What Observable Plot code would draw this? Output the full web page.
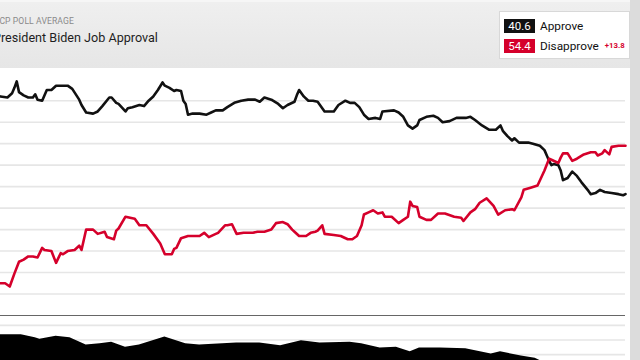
<!DOCTYPE html>
<html>
<head>
<meta charset="utf-8">
<script src="https://cdn.jsdelivr.net/npm/d3@7"></script>
<script src="https://cdn.jsdelivr.net/npm/@observablehq/plot@0.6"></script>
<style>
  html, body { margin: 0; padding: 0; }
  body { width: 640px; height: 360px; overflow: hidden; position: relative; background: #dcdcdc; font-family: Roboto, "Liberation Sans", sans-serif; }
  #header { position: absolute; left: 0; top: 0; width: 630px; height: 68px; background: linear-gradient(#efefef, #e6e6e6); border-top: 2px solid #f6f6f6; box-sizing: border-box; overflow: hidden; }
  #kicker { position: absolute; left: -6px; top: 14px; font-size: 8.6px; color: #8a8a8a; letter-spacing: 0.1px; white-space: nowrap; }
  #title { position: absolute; left: -7px; top: 28px; font-size: 12.6px; color: #1e1e1e; white-space: nowrap; }
  #legend { position: absolute; left: 499px; top: 11px; width: 131px; height: 48px; background: #fff; border: 1px solid #d8d8d8; box-sizing: border-box; }
  .row { position: absolute; left: 4px; height: 15px; display: flex; align-items: center; white-space: nowrap; }
  .val { width: 31px; height: 14px; color: #fff; font-size: 11.5px; display: flex; align-items: center; justify-content: center; }
  .lab { margin-left: 5px; font-size: 11.8px; color: #111; }
  .diff { margin-left: 6px; font-size: 7.8px; color: #d5002b; font-weight: bold; }
  #chart { position: absolute; left: 0; top: 68px; }
  #nav { position: absolute; left: 0; top: 319px; }
</style>
</head>
<body>
<div id="header">
  <div id="kicker">RCP POLL AVERAGE</div>
  <div id="title">President Biden Job Approval</div>
</div>
<div id="legend">
  <div class="row" style="top:6px"><div class="val" style="background:#111">40.6</div><div class="lab">Approve</div></div>
  <div class="row" style="top:26px"><div class="val" style="background:#d5002b">54.4</div><div class="lab">Disapprove</div><div class="diff">+13.8</div></div>
</div>
<div id="chart"></div>
<div id="nav"></div>
<script>
const startDate = new Date(Date.UTC(2021, 0, 27));
const spanDays = 270;

const approveDays = [0,3,5,6,7,8,10,12,14,15,16,18,20,22,24,29,31,34,35,37,40,42,44,47,48,50,51,54,55,57,60,62,64,66,68,70,71,73,75,76,78,79,80,81,83,86,89,91,93,96,98,101,104,107,110,112,114,117,120,122,124,127,128,129,131,133,135,137,138,140,144,146,149,151,153,155,157,159,162,164,165,170,172,174,176,178,180,181,184,187,189,191,194,197,201,203,205,208,211,214,216,217,219,221,222,224,228,230,233,235,236,237,238,239,241,242,243,245,247,249,251,254,255,257,259,261,264,267,269,270];
const approveValues = [56.4,56.3,56.7,57.2,57.8,56.8,56.5,56.3,56.3,56.6,56.1,56.0,57.0,57.0,57.4,57.4,57.1,56.1,55.6,54.9,54.8,55.0,55.5,56.3,56.3,55.8,55.7,55.0,55.3,55.4,55.6,55.5,56.0,56.4,57.0,57.7,57.4,57.2,56.9,57.0,56.9,56.0,55.7,54.7,54.8,54.8,54.7,54.9,55.1,55.1,55.4,55.8,56.0,56.1,56.1,55.9,56.3,56.1,55.7,55.3,55.6,55.9,56.5,57.0,56.4,56.0,56.0,55.9,55.6,55.0,55.0,55.6,56.0,55.8,55.8,55.4,54.7,54.3,54.4,54.3,55.0,55.1,54.9,54.5,53.7,53.4,53.7,54.2,54.5,54.6,54.4,54.0,54.1,54.4,54.4,54.5,54.2,53.7,53.3,53.3,53.7,53.2,52.7,52.3,52.5,52.1,52.1,52.0,51.8,51.4,50.9,50.4,50.0,50.1,50.0,49.5,48.6,48.8,49.4,49.0,48.4,47.6,47.3,47.4,47.7,47.5,47.4,47.3,47.2,47.3];

const disapproveDays = [0,2,4,6,8,10,12,14,16,18,19,22,24,26,27,29,32,34,35,37,40,42,45,46,49,50,51,54,56,58,60,63,66,69,71,74,75,76,78,81,83,86,88,90,93,94,97,98,100,102,105,109,111,114,117,119,122,124,126,127,129,132,134,136,137,139,140,144,147,150,152,154,156,157,159,161,163,165,166,169,172,174,176,177,178,180,181,184,186,189,192,196,199,200,203,205,207,210,213,215,218,221,222,225,226,229,232,235,237,238,241,242,243,245,247,249,252,255,257,258,260,261,263,264,267,270];
const disapproveValues = [39.0,39.0,38.7,39.9,41.0,41.2,41.5,41.5,41.4,42.3,42.1,42.0,40.9,41.8,41.7,42.0,42.1,42.5,42.1,44.0,44.0,43.6,43.8,43.3,43.1,43.9,44.1,45.2,45.1,45.0,44.4,44.4,43.6,42.7,41.7,41.7,42.2,42.3,43.2,43.4,43.4,43.4,43.7,43.3,43.6,43.7,44.4,44.4,44.5,43.6,43.7,43.7,43.8,43.8,44.0,44.6,44.7,44.5,44.0,43.8,43.4,43.4,43.7,43.8,43.9,44.4,43.6,43.5,43.4,43.1,43.1,43.4,44.4,45.4,45.6,45.8,45.5,45.6,45.2,45.2,44.6,44.9,45.2,46.6,46.2,46.1,45.2,44.9,44.9,45.5,45.5,45.2,45.1,44.8,45.6,45.9,46.5,46.9,46.2,45.4,45.8,45.9,45.8,47.0,47.7,47.9,48.1,49.5,50.6,50.5,50.2,50.7,51.1,51.1,50.4,50.6,51.0,51.2,51.2,50.9,51.1,51.4,51.0,51.7,51.8,51.8];

const navDays = [0,9,15,17,24,30,37,43,48,54,60,71,80,86,102,112,121,130,138,151,156,164,171,177,181,190,201,212,216,225,231,235];
const navValues = [54.7,54.7,54.3,54.1,54.5,54.3,53.3,53.5,53.7,53.0,53.3,54.4,53.5,53.3,53.6,53.6,53.2,53.9,53.6,53.7,53.5,52.9,53.0,52.4,52.9,52.9,52.8,52.1,52.4,51.8,51.5,50.9];

const gridTicks = [38,40,42,44,46,48,50,52,54,56];
const navTicks = [52,54,56];

const toRows = (days, vals) => days.map((d, i) => ({date: d3.utcDay.offset(startDate, d), value: vals[i]}));
const approve = toRows(approveDays, approveValues);
const disapprove = toRows(disapproveDays, disapproveValues);
const nav = toRows(navDays, navValues);
const xDomain = [startDate, d3.utcDay.offset(startDate, spanDays)];

const main = Plot.plot({
  width: 630, height: 251,
  marginTop: 0, marginBottom: 4, marginLeft: 0, marginRight: 5,
  style: {background: "white"},
  x: {type: "utc", domain: xDomain, axis: null},
  y: {domain: [36, 59], axis: null},
  marks: [
    Plot.ruleY(gridTicks, {stroke: "#e6e6e6", strokeWidth: 1.6}),
    Plot.ruleY([36], {stroke: "#666", strokeWidth: 1.2}),
    Plot.line(approve, {x: "date", y: "value", stroke: "#111", strokeWidth: 2.6, curve: "linear"}),
    Plot.line(disapprove, {x: "date", y: "value", stroke: "#d5002b", strokeWidth: 2.6, curve: "linear"})
  ]
});
document.getElementById("chart").appendChild(main);

const navPlot = Plot.plot({
  width: 630, height: 60,
  marginTop: 0, marginBottom: 0, marginLeft: 0, marginRight: 5,
  style: {background: "white"},
  x: {type: "utc", domain: xDomain, axis: null},
  y: {domain: [48.6, 56.8], axis: null},
  marks: [
    Plot.ruleY(navTicks, {stroke: "#e6e6e6", strokeWidth: 1.6}),
    Plot.areaY(nav, {x: "date", y1: 48.6, y2: "value", fill: "#000"})
  ]
});
document.getElementById("nav").appendChild(navPlot);
</script>
</body>
</html>
